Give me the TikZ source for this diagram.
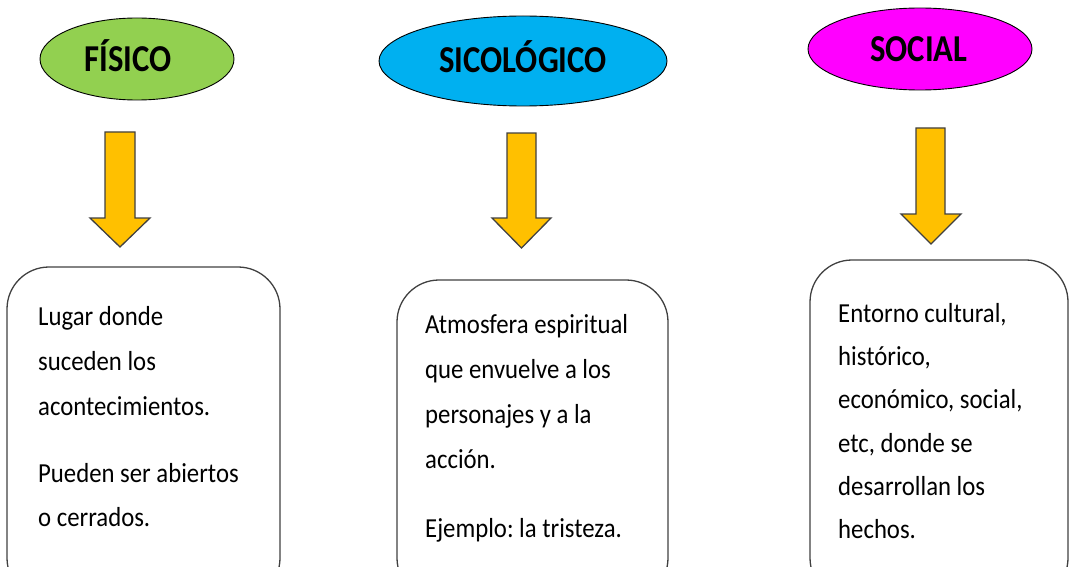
\documentclass[tikz,border=0pt]{standalone}
\usepackage{fontspec}
\usepackage{graphicx}
\setmainfont{Carlito}
\usetikzlibrary{shapes.geometric}
\definecolor{fisgreen}{HTML}{92D050}
\definecolor{sicblue}{HTML}{00B0F0}
\definecolor{socmag}{HTML}{FF00FF}
\definecolor{arrowfill}{HTML}{FFC000}
\definecolor{edgegray}{HTML}{404040}
\tikzset{
  title/.style={ellipse, draw=black, line width=0.9pt, inner sep=0pt},
  titletxt/.style={anchor=base, inner sep=0pt, font=\fontsize{38}{40}\selectfont\bfseries},
  blockarrow/.style={fill=arrowfill, draw=edgegray, line width=1.3pt, line join=miter},
  infobox/.style={draw=edgegray, line width=1.3pt, rounded corners=42pt},
  bodytxt/.style={anchor=base west, inner sep=0pt, font=\fontsize{27.5}{30}\selectfont},
}
\newcommand{\sq}[1]{\scalebox{0.9}[1]{#1}}
\newcommand{\sqt}[1]{\scalebox{0.86}[1]{#1}}
\frenchspacing
\begin{document}
\begin{tikzpicture}[x=1pt,y=-1pt]
\useasboundingbox (0,0) rectangle (1070,567);
\clip (0,0) rectangle (1070,567);
% title ellipses
\node[title, fill=fisgreen, minimum width=194pt, minimum height=82pt] (fis) at (137,59) {};
\node[title, fill=sicblue, minimum width=288pt, minimum height=90pt] (sic) at (523,61) {};
\node[title, fill=socmag, minimum width=224pt, minimum height=82pt] (soc) at (920,49) {};
\node[titletxt] (fist) at (128,72) {\sqt{FÍSICO}};
\node[titletxt] (sict) at (523,73) {\sqt{SICOLÓGICO}};
\node[titletxt] (soct) at (919,62) {\sqt{SOCIAL}};
% block arrows
\draw[blockarrow] (105,132) -- (135,132) -- (135,218) -- (150,218) -- (120,247) -- (90,218) -- (105,218) -- cycle;
\draw[blockarrow] (507,133) -- (536,133) -- (536,218) -- (551,218) -- (521.5,248) -- (492,218) -- (507,218) -- cycle;
\draw[blockarrow] (916,128) -- (945,128) -- (945,214) -- (961,214) -- (931,244) -- (901,214) -- (916,214) -- cycle;
% boxes
\draw[infobox] (7,267) rectangle (280,600);
\draw[infobox] (397,280) rectangle (668,600);
\draw[infobox] (810,260) rectangle (1068,600);
% texts box 1
\node[bodytxt] (a1) at (38,325) {\sq{Lugar donde}};
\node[bodytxt] (a2) at (38,370) {\sq{suceden los}};
\node[bodytxt] (a3) at (38,415) {\sq{acontecimientos.}};
\node[bodytxt] (a4) at (38,482) {\sq{Pueden ser abiertos}};
\node[bodytxt] (a5) at (38,526) {\sq{o cerrados.}};
% texts box 2
\node[bodytxt] (b1) at (425,333) {\sq{Atmosfera espiritual}};
\node[bodytxt] (b2) at (425,378) {\sq{que envuelve a los}};
\node[bodytxt] (b3) at (425,423) {\sq{personajes y a la}};
\node[bodytxt] (b4) at (425,468) {\sq{acción.}};
\node[bodytxt] (b5) at (425,537) {\sq{Ejemplo: la tristeza.}};
% texts box 3
\node[bodytxt] (c1) at (838,322) {\sq{Entorno cultural,}};
\node[bodytxt] (c2) at (838,365) {\sq{histórico,}};
\node[bodytxt] (c3) at (838,408) {\sq{económico, social,}};
\node[bodytxt] (c4) at (838,452) {\sq{etc, donde se}};
\node[bodytxt] (c5) at (838,495) {\sq{desarrollan los}};
\node[bodytxt] (c6) at (838,538) {\sq{hechos.}};
\end{tikzpicture}
\end{document}
